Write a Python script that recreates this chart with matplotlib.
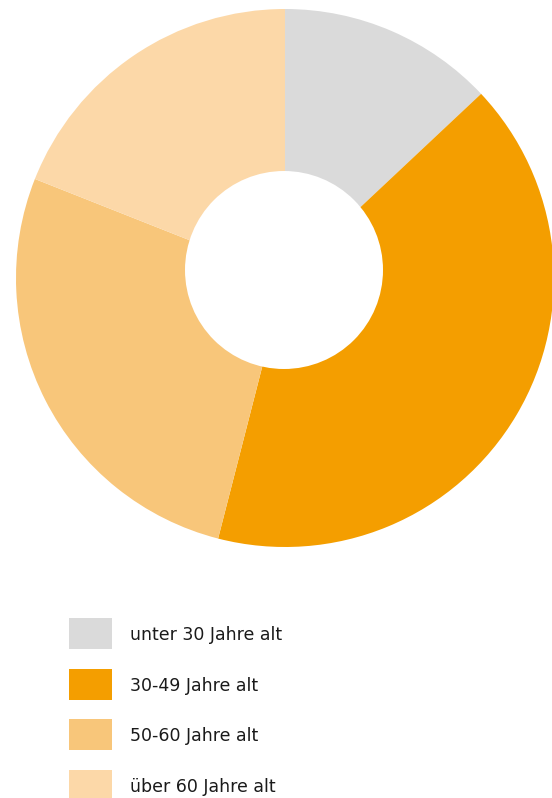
import matplotlib
matplotlib.use("Agg")
import matplotlib.pyplot as plt
from matplotlib.patches import Circle, Rectangle

# Altersstruktur (Anteile in %)
labels = ["unter 30 Jahre alt", "30-49 Jahre alt", "50-60 Jahre alt", "über 60 Jahre alt"]
shares = [13, 41, 27, 19]
colors = ["#DADADA", "#F49E00", "#F8C67A", "#FCD8A8"]

W, H = 552, 798
fig = plt.figure(figsize=(W / 100, H / 100), dpi=100)
ax = fig.add_axes([0, 0, 1, 1])
ax.set_xlim(0, W)
ax.set_ylim(0, H)
ax.set_aspect("equal")
ax.axis("off")

# pixel y -> data y
def py(y):
    return H - y

ax.pie(shares, colors=colors, startangle=90, counterclock=False,
       center=(285, py(278)), radius=269,
       wedgeprops=dict(linewidth=0, edgecolor="none"))
ax.add_patch(Circle((284, py(270)), 99, facecolor="white", edgecolor="none", zorder=5))
ax.set_xlim(0, W)
ax.set_ylim(0, H)

# legend
for i, (lab, col) in enumerate(zip(labels, colors)):
    top = 618 + i * 50.7
    ax.add_patch(Rectangle((69, py(top + 31)), 43, 31, facecolor=col, edgecolor="none"))
    ax.text(130, py(top + 17), lab, fontsize=12.5, family="DejaVu Sans", color="#1a1a1a",
            va="center", ha="left")

fig.savefig("out.png", dpi=100)
